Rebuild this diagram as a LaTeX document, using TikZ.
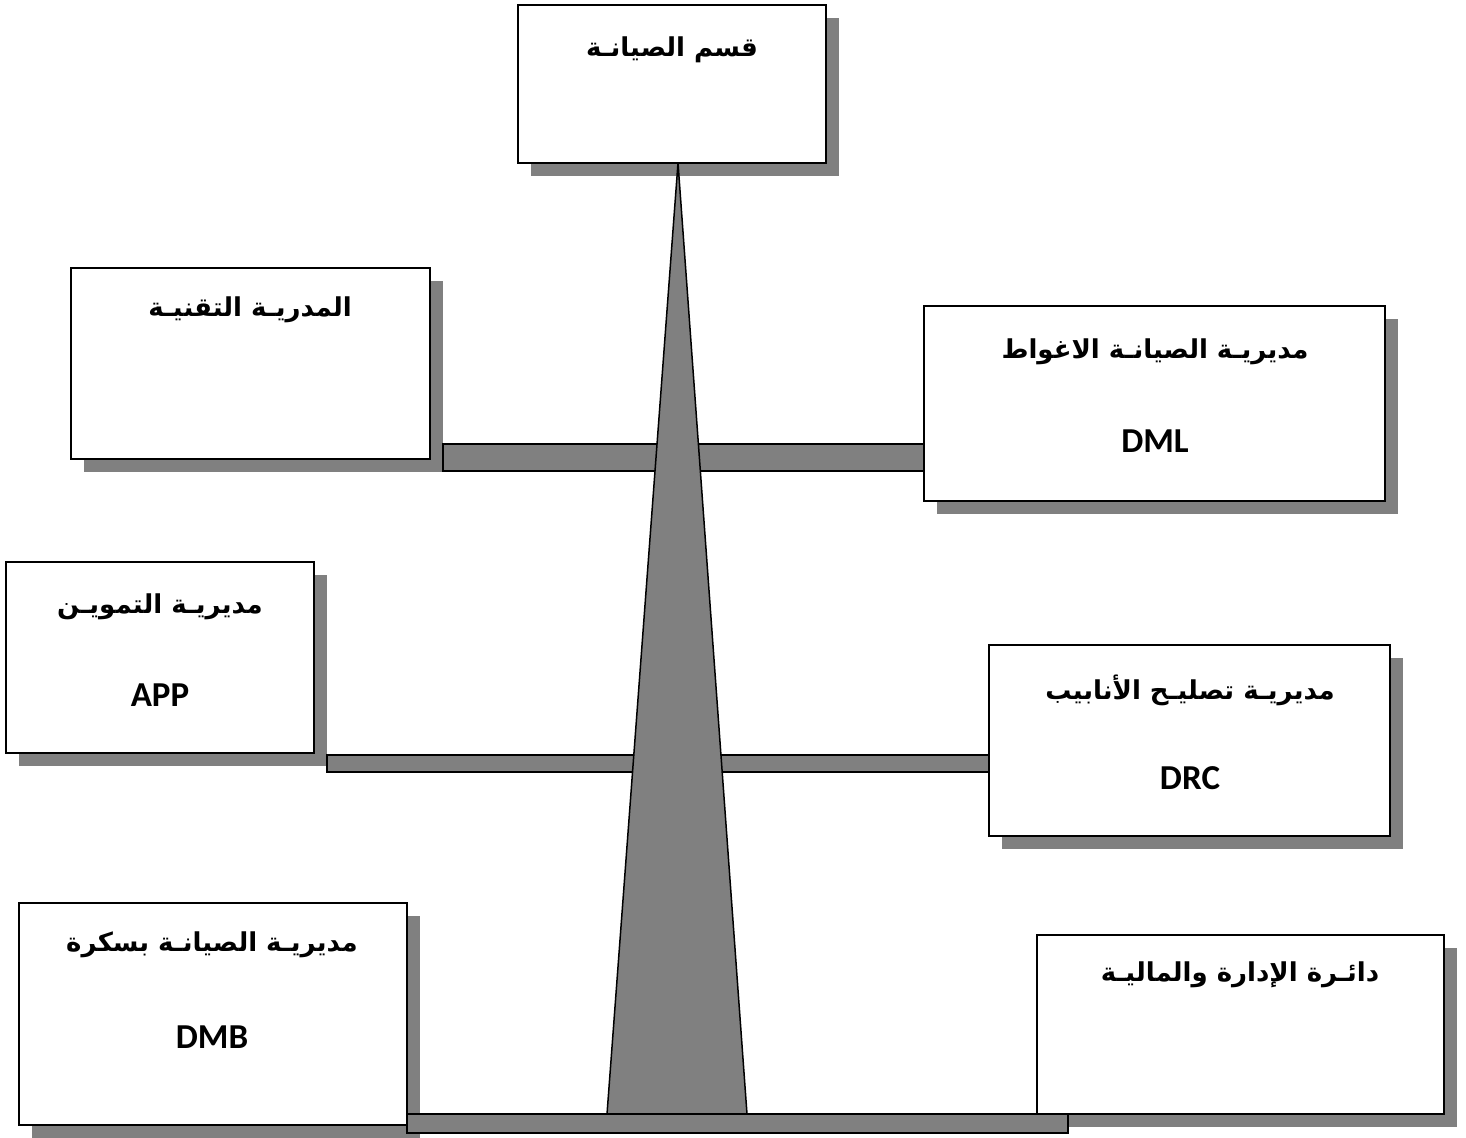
\documentclass[tikz,border=0pt]{standalone}
\usepackage{fontspec}
\TeXXeTstate=1
\newfontfamily\arabicfont[Script=Arabic]{DejaVu Sans}
\newfontfamily\latinfont{Carlito}
\definecolor{shadowc}{RGB}{128,128,128}
\pgfdeclarelayer{shadowlayer}
\pgfdeclarelayer{barlayer}
\pgfsetlayers{shadowlayer,barlayer,main}
\tikzset{
  box/.style={draw=black, line width=2pt, fill=white, rectangle, inner sep=0pt, outer sep=0pt, anchor=north west},
  bar/.style={draw=black, line width=1.5pt, fill=shadowc},
  tri/.style={draw=black, line width=1.5pt, fill=shadowc, line join=miter},
  ar/.style={font=\arabicfont\bfseries\fontsize{26}{31}\selectfont, inner sep=0pt},
  la/.style={font=\latinfont\bfseries\fontsize{35}{42}\selectfont, inner sep=0pt},
}
\begin{document}
\begin{tikzpicture}[x=1pt,y=-1pt]
\useasboundingbox (0,0) rectangle (1466,1137);
% boxes
\node[box, minimum width=308pt, minimum height=158pt] (top) at (518,5) {};
\node[box, minimum width=359pt, minimum height=191pt] (l1) at (71,268) {};
\node[box, minimum width=461pt, minimum height=195pt] (r1) at (924,306) {};
\node[box, minimum width=308pt, minimum height=191pt] (l2) at (6,562) {};
\node[box, minimum width=401pt, minimum height=191pt] (r2) at (989,645) {};
\node[box, minimum width=388pt, minimum height=222pt] (l3) at (19,903) {};
\node[box, minimum width=407pt, minimum height=179pt] (r3) at (1037,935) {};
% texts
\node[ar] (ttop) at (672,50) {\beginR قسم الصيانـة\endR};
\node[ar] (tl1) at (250,310) {\beginR المدريـة التقنيـة\endR};
\node[ar] (tr1) at (1155,352) {\beginR مديريـة الصيانـة الاغواط\endR};
\node[la] (cr1) at (1155,441) {DML};
\node[ar] (tl2) at (160,607) {\beginR مديريـة التمويـن\endR};
\node[la] (cl2) at (160,695) {APP};
\node[ar] (tr2) at (1190,690) {\beginR مديريـة تصليـح الأنابيب\endR};
\node[la] (cr2) at (1190,778) {DRC};
\node[ar] (tl3) at (212,945) {\beginR مديريـة الصيانـة بسكرة\endR};
\node[la] (cl3) at (212,1037) {DMB};
\node[ar] (tr3) at (1240,975) {\beginR دائـرة الإدارة والماليـة\endR};
% shadows
\begin{pgfonlayer}{shadowlayer}
\foreach \n in {top,l1,r1,l2,r2,l3,r3}
  \fill[shadowc] ([shift={(13,13)}]\n.north west) rectangle ([shift={(13,13)}]\n.south east);
\end{pgfonlayer}
% bars and trunk
\begin{pgfonlayer}{barlayer}
\path (l1.east) ++(13,0) coordinate (b1w);
\path (l2.east) ++(13,0) coordinate (b2w);
\coordinate (b3e) at (1068,1133);
\draw[bar] (b1w |- 0,444) rectangle (r1.west |- 0,471);
\draw[bar] (b2w |- 0,755) rectangle (r2.west |- 0,772);
\draw[tri] (678,163) -- (607,1114) -- (747,1114) -- cycle;
\draw[bar] (l3.east |- 0,1114) rectangle (b3e);
\end{pgfonlayer}
\end{tikzpicture}
\end{document}
